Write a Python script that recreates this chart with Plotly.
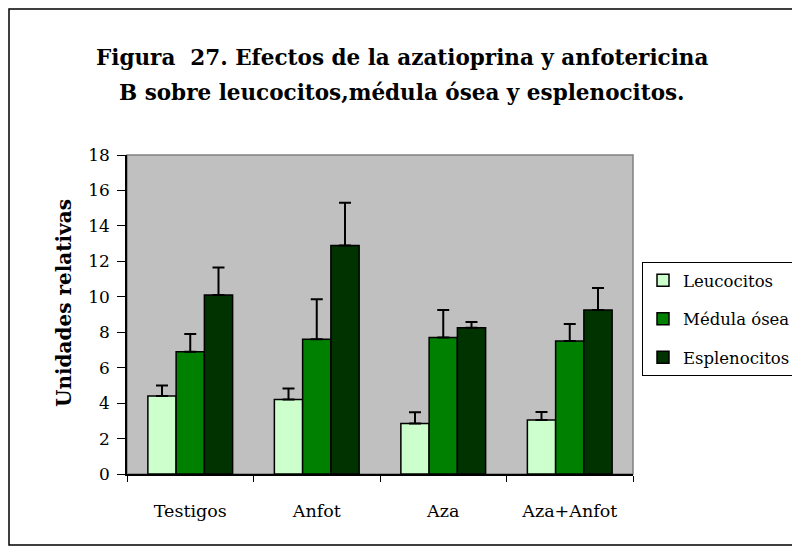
import plotly.graph_objects as go

# Datos
grupos = ['Testigos', 'Anfot', 'Aza', 'Aza+Anfot']
leucocitos = [4.4, 4.2, 2.85, 3.05]
leucocitos_err = [0.6, 0.62, 0.64, 0.45]
medula = [6.9, 7.6, 7.7, 7.5]
medula_err = [1.0, 2.26, 1.55, 0.96]
esplenocitos = [10.1, 12.9, 8.25, 9.25]
esplenocitos_err = [1.55, 2.4, 0.32, 1.25]

titulo_1 = 'Figura  27. Efectos de la azatioprina y anfotericina'
titulo_2 = 'B sobre leucocitos,médula ósea y esplenocitos.'

series = [
    ('Leucocitos', leucocitos, leucocitos_err, '#CCFFCC'),
    ('Médula ósea', medula, medula_err, '#008000'),
    ('Esplenocitos', esplenocitos, esplenocitos_err, '#003300'),
]

FONT = 'DejaVu Serif'
OFF = 8  # margen del body de la página
W, H = 800 - OFF, 547 - OFF
# área de trazado en píxeles de pantalla: x 127..633, y 155..474
L, T = 127 - OFF, 155 - OFF
R, B = W - (633 - OFF), H - (474 - OFF)
pw, ph = W - L - R, H - T - B


def px_x(sx):
    return (sx - OFF - L) / pw


def px_y(sy):
    return (H - B - (sy - OFF)) / ph


fig = go.Figure()
for nombre, vals, errs, color in series:
    fig.add_trace(go.Bar(
        name=nombre, x=grupos, y=vals, legendgroup=nombre,
        marker=dict(color=color, line=dict(color='black', width=1.5)),
        error_y=dict(type='data', array=errs, arrayminus=[0] * len(errs),
                     symmetric=False, color='black', thickness=2, width=6),
    ))

# marco exterior del gráfico
fig.add_shape(type='rect', xref='paper', yref='paper',
              x0=px_x(9), x1=px_x(795), y0=px_y(545), y1=px_y(9),
              line=dict(color='black', width=1.5), layer='below')
# borde gris del área de trazado
fig.add_shape(type='rect', xref='paper', yref='paper', x0=0, x1=1, y0=0, y1=1,
              line=dict(color='#808080', width=1.5), layer='below')

fig.add_annotation(text='<b>' + titulo_1 + '</b>', xref='paper', yref='paper',
                   x=px_x(402), y=px_y(43), showarrow=False,
                   font=dict(family=FONT, size=21.5, color='black'))
fig.add_annotation(text='<b>' + titulo_2 + '</b>', xref='paper', yref='paper',
                   x=px_x(402), y=px_y(78), showarrow=False,
                   font=dict(family=FONT, size=21.5, color='black'))
fig.add_annotation(text='<b>Unidades relativas</b>', xref='paper', yref='paper',
                   x=px_x(50), y=px_y(303), showarrow=False, textangle=-90,
                   font=dict(family=FONT, size=20, color='black'))

fig.update_layout(
    width=W, height=H,
    margin=dict(l=L, r=R, t=T, b=B, autoexpand=False),
    paper_bgcolor='white', plot_bgcolor='#C0C0C0',
    barmode='group', bargap=0.33, bargroupgap=0,
    font=dict(family=FONT, color='black'),
    legend=dict(x=px_x(642), xanchor='left', y=px_y(262), yanchor='top',
                bordercolor='black', borderwidth=1, bgcolor='white', itemwidth=30,
                font=dict(family=FONT, size=16.5), traceorder='grouped', tracegroupgap=14),
    showlegend=True,
)
fig.update_xaxes(showline=True, linecolor='black', linewidth=1.5,
                 ticks='outside', tickson='boundaries', ticklen=6, tickcolor='black',
                 tickfont=dict(family=FONT, size=17.5), ticklabelstandoff=20, showgrid=False)
fig.update_yaxes(range=[0, 18], dtick=2, showline=True, linecolor='black', linewidth=1.5,
                 ticks='outside', ticklen=8, tickcolor='black', showgrid=False,
                 tickfont=dict(family=FONT, size=17), ticklabelstandoff=4, zeroline=False)

fig.write_html('out.html')
